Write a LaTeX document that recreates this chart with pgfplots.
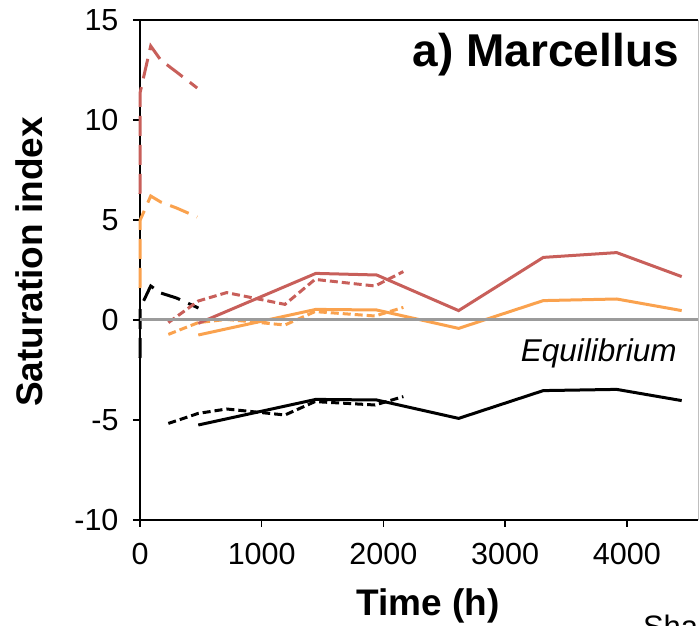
\documentclass[border=0pt]{standalone}
\usepackage{pgfplots}
\pgfplotsset{compat=1.18}
\usepackage{fontspec}
\setmainfont{Liberation Sans}
\definecolor{cred}{RGB}{200,95,90}
\definecolor{corange}{RGB}{250,162,78}
\definecolor{cgray}{RGB}{155,155,155}
\begin{document}
\begin{tikzpicture}
\begin{axis}[
  scale only axis,
  width=558pt, height=500pt,
  xmin=0, xmax=4585, ymin=-10, ymax=15,
  axis x line*=bottom, axis y line*=left,
  axis line style={-, black, line width=1.6pt},
  xtick={0,1000,2000,3000,4000},
  ytick={-10,-5,0,5,10,15},
  tick align=outside,
  major tick length=7pt,
  every tick/.style={black, line width=1.4pt},
  /pgf/number format/assume math mode=true,
  /pgf/number format/1000 sep={},
  ticklabel style={font=\fontsize{30.5}{36}\selectfont},
  xticklabel style={yshift=-13pt},
  yticklabel style={xshift=-11pt},
  xlabel={Time (h)},
  ylabel={Saturation index},
  every axis x label/.style={at={(axis description cs:0.516,-0.19)}, anchor=base, font=\bfseries\fontsize{37}{44}\selectfont},
  every axis y label/.style={at={(axis description cs:-0.1756,0.516)}, anchor=base, rotate=90, font=\bfseries\fontsize{37}{44}\selectfont},
  clip=false,
]
% long-dash series
\addplot[cred, line width=3pt, dash pattern=on 20pt off 9pt] coordinates {(0,6.3) (2,11.4) (88,13.7) (170,13.0) (300,12.4) (470,11.6)};
\addplot[corange, line width=3pt, dash pattern=on 20pt off 9pt] coordinates {(0,1.6) (2,5.0) (88,6.2) (170,5.9) (300,5.6) (470,5.15)};
\addplot[black, line width=3pt, dash pattern=on 20pt off 9pt] coordinates {(0,-1.9) (2,0.6) (88,1.7) (170,1.35) (300,1.1) (480,0.6)};
% short-dash series
\addplot[cred, line width=3pt, dash pattern=on 8pt off 4pt] coordinates {(233,-0.13) (479,0.95) (712,1.37) (1191,0.78) (1438,2.03) (1931,1.7) (2164,2.42)};
\addplot[corange, line width=3pt, dash pattern=on 8pt off 4pt] coordinates {(233,-0.72) (479,-0.13) (712,0.03) (1191,-0.25) (1438,0.42) (1931,0.2) (2164,0.63)};
\addplot[black, line width=3pt, dash pattern=on 8pt off 4pt] coordinates {(233,-5.17) (479,-4.67) (712,-4.45) (1191,-4.75) (1438,-4.08) (1931,-4.25) (2164,-3.83)};
% solid series
\addplot[cred, line width=3pt] coordinates {(479,-0.17) (1445,2.33) (1945,2.25) (2618,0.47) (3314,3.13) (3917,3.37) (4451,2.17)};
\addplot[corange, line width=3pt] coordinates {(479,-0.75) (1445,0.53) (1945,0.5) (2618,-0.42) (3314,0.97) (3917,1.05) (4451,0.47)};
\addplot[black, line width=3pt] coordinates {(479,-5.25) (1445,-3.97) (1945,-4.0) (2618,-4.92) (3314,-3.53) (3917,-3.47) (4451,-4.03)};
% equilibrium line
\addplot[cgray, line width=3pt] coordinates {(0,0) (4585,0)};
% frame top and right
\draw[black, line width=1.6pt] (rel axis cs:0,1) -- (rel axis cs:1,1);
\draw[black!25, line width=0.8pt] (rel axis cs:1,0) -- (rel axis cs:1,1);
\node[anchor=base east, font=\bfseries\fontsize{46}{54}\selectfont, inner sep=0pt] at (axis cs:4429,12.65) {a) Marcellus};
\node[anchor=base east, font=\itshape\fontsize{31.5}{36}\selectfont, inner sep=0pt] at (axis cs:4412,-2.08) {Equilibrium};
\node[overlay, anchor=north west, inner sep=0pt, font=\fontsize{31}{36}\selectfont] at (axis cs:4132,-14.75) {Sha};
\end{axis}
\pgfresetboundingbox
\path[use as bounding box] ([xshift=-140pt,yshift=-106pt]current axis.south west) rectangle ([xshift=559pt,yshift=520pt]current axis.south west);
\end{tikzpicture}
\end{document}
